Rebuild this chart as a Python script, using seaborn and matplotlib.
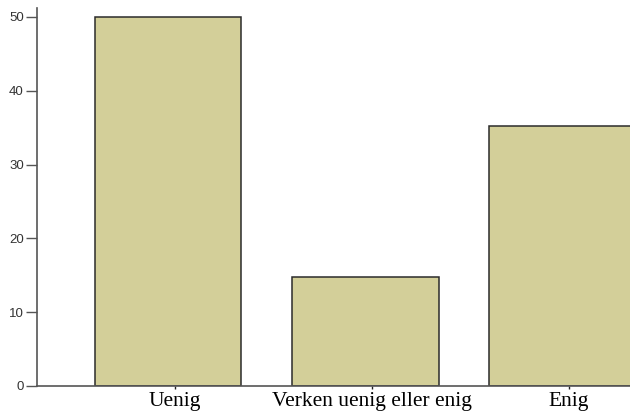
import matplotlib
matplotlib.use("Agg")
import matplotlib.pyplot as plt
import seaborn as sns
import pandas as pd

# ============================
# Data
# ============================
categories = ["Uenig", "Verken uenig eller enig", "Enig"]
percent = [50.0, 14.8, 35.2]
yticks = [0, 10, 20, 30, 40, 50]

df = pd.DataFrame({"svar": categories, "prosent": percent})

sns.set_style("white")

fig = plt.figure(figsize=(6.3, 4.12), dpi=100)
ax = fig.add_axes([37 / 630, 26 / 412, 1 - 37 / 630, (386 - 8) / 412])

sns.barplot(
    data=df, x="svar", y="prosent", ax=ax,
    color="#d3cf99", saturation=1, width=0.746,
    edgecolor="#2b2b2b", linewidth=1.1
)

ax.set_xlim(-0.665, 2.345)
ax.set_ylim(0, 51.2)
ax.set_yticks(yticks)
# category ticks sit a little right of the bar centres, like the original
ax.set_xticks([i + 0.033 for i in range(len(categories))], categories)
ax.set_xlabel("")
ax.set_ylabel("")

# ============================
# Axes styling
# ============================
for side in ["top", "right"]:
    ax.spines[side].set_visible(False)
for side in ["left", "bottom"]:
    ax.spines[side].set_color("#555555")
    ax.spines[side].set_linewidth(1.2)

ax.tick_params(axis="y", direction="out", length=8, width=1, color="#555555",
               left=True, pad=1.5)
ax.tick_params(axis="x", direction="out", length=2.5, width=1, color="#222222",
               bottom=True, pad=1.5)

for lab in ax.get_yticklabels():
    lab.set_fontfamily("Liberation Sans")
    lab.set_fontsize(9.5)
    lab.set_color("#333333")
for lab in ax.get_xticklabels():
    lab.set_fontfamily("Liberation Serif")
    lab.set_fontsize(15.5)
    lab.set_color("black")

fig.savefig("out.png", dpi=100)
plt.close(fig)
